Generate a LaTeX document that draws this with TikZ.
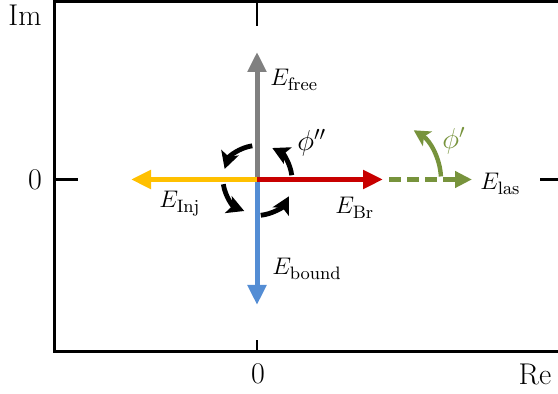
\documentclass[tikz,border=0pt]{standalone}
\usetikzlibrary{arrows.meta}
\definecolor{cgray}{RGB}{128,128,128}
\definecolor{cred}{RGB}{200,0,0}
\definecolor{cyel}{RGB}{255,192,0}
\definecolor{cblue}{RGB}{84,141,212}
\definecolor{cgreen}{RGB}{119,147,60}
\begin{document}
\begin{tikzpicture}[x=0.5pt,y=0.5pt,
  frame/.style={line width=1.5pt},
  tick/.style={line width=1.1pt},
  field/.style={line width=2.5pt,-{Triangle[length=10pt,width=9pt]}},
  phasearc/.style={line width=2.4pt,-{Stealth[length=8.5pt,width=9pt,inset=2pt]}},
  axlab/.style={font=\fontsize{15}{18}\selectfont, inner sep=0pt},
  elab/.style={font=\fontsize{12.5}{15}\selectfont, inner sep=0pt, anchor=base west},
  plab/.style={font=\fontsize{14}{16}\selectfont, inner sep=0pt, anchor=base west}]
\useasboundingbox (0,0) rectangle (558,394);
\begin{scope}
\clip (0,0) rectangle (558,394);
\draw[frame] (600,392.5) -- (54,392.5) -- (54,42) -- (600,42);
\end{scope}
% ticks
\coordinate (O) at (257,214.5);
\draw[tick] (257,392.5) -- (257,368);
\draw[tick] (257,42) -- (257,54);
\draw[tick] (54,214.5) -- (78,214.5);
\draw[tick] (540,214.5) -- (558,214.5);
% axis labels
\node[axlab] (im) at (25,379) {Im};
\node[axlab] (zl) at (35,214.5) {0};
\node[axlab] (zb) at (258,20) {0};
\node[axlab] (re) at (535,19) {Re};
% field arrows
\coordinate (free) at (257,342);
\coordinate (bound) at (257,89);
\coordinate (br) at (383,214.5);
\coordinate (inj) at (131,214.5);
\coordinate (ls) at (389,214.5);
\coordinate (le) at (472,214.5);
\draw[field,cgray] (O) -- (free);
\draw[field,cblue] (O) -- (bound);
\draw[field,cyel] (O) -- (inj);
\draw[field,cred] (O) -- (br);
\draw[line width=2.5pt,cgreen,dash pattern=on 6pt off 3pt,-{Triangle[length=8.5pt,width=8pt]}] (ls) -- (le);
% phase arcs
\draw[phasearc] (O) ++(98:34) arc[start angle=98,end angle=162,radius=34];
\draw[phasearc] (O) ++(7:35) arc[start angle=7,end angle=64,radius=35];
\draw[phasearc] (O) ++(188:34) arc[start angle=188,end angle=248,radius=34];
\draw[phasearc] (O) ++(276:36) arc[start angle=276,end angle=332,radius=36];
\draw[line width=2.2pt,cgreen,-{Stealth[length=8pt,width=8.5pt,inset=2pt]}] (br) ++(3:58) arc[start angle=3,end angle=58,radius=58];
% labels
\node[elab] (lfree) at (270,308) {$E_{\mathrm{free}}$};
\node[elab] (lbound) at (272,119) {$E_{\mathrm{bound}}$};
\node[elab] (linj) at (159,186) {$E_{\mathrm{Inj}}$};
\node[elab] (lbr) at (335,180) {$E_{\mathrm{Br}}$};
\node[elab] (llas) at (480,204) {$E_{\mathrm{las}}$};
\node[plab] (phi2) at (297,243) {$\phi''$};
\node[plab,cgreen] (phi1) at (442,245) {$\phi'$};
\end{tikzpicture}
\end{document}
